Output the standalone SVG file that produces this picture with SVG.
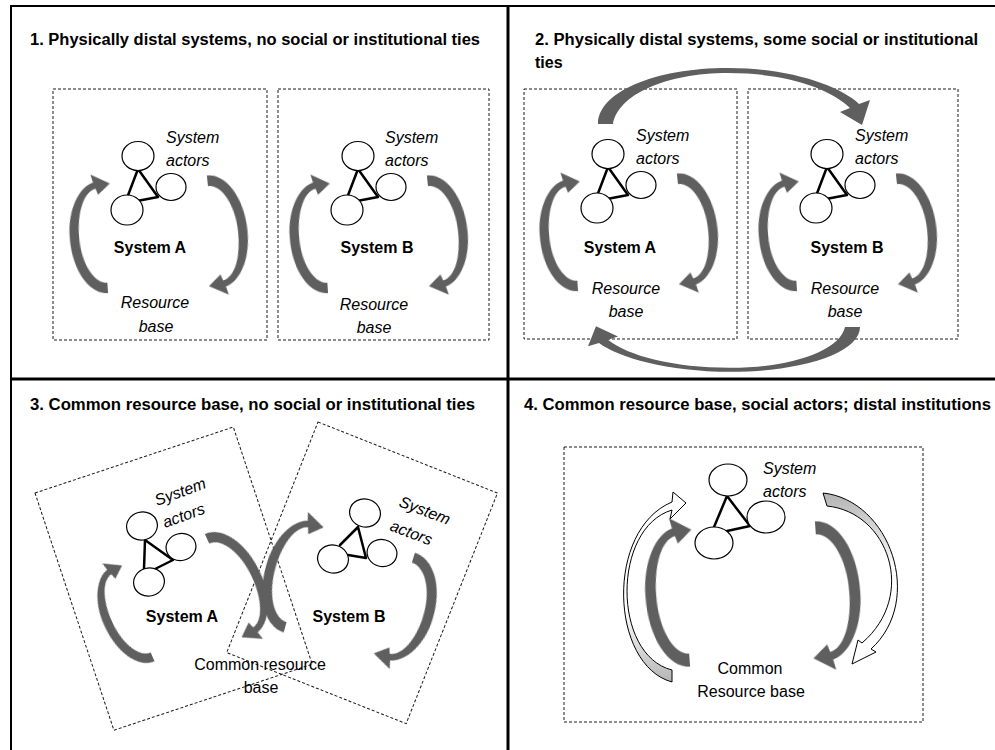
<svg xmlns="http://www.w3.org/2000/svg" xmlns:xlink="http://www.w3.org/1999/xlink" width="995" height="750" viewBox="0 0 995 750">
<style>
.frame{stroke:#000;fill:none}
.box{fill:none;stroke:#1a1a1a;stroke-width:1;stroke-dasharray:3 2}
.ell{fill:#fff;stroke:#000;stroke-width:1.2}
.tri{fill:none;stroke:#000;stroke-width:2.5;stroke-linejoin:round;stroke-linecap:round}
text{font-family:"Liberation Sans",Arial,sans-serif;fill:#000;font-size:16px}
.title{font-weight:bold}
.it{font-style:italic}
.bold{font-weight:bold}
.mid{text-anchor:middle}
.arr{fill:#5e5e5e;filter:url(#soft)}
.warr{stroke:#000;stroke-width:1;stroke-linejoin:round}
</style>
<defs>
<filter id="soft" x="-20%" y="-20%" width="140%" height="140%"><feGaussianBlur stdDeviation="0.6"/></filter>
<path id="carc" d="M 0,56 C -18,56 -33,32 -33,0 C -33,-28 -20,-48 -7,-51 L -9,-59 L 9,-49 L -3,-39 L -5,-45 C -16,-43 -24,-25 -24,0 C -24,25 -13,46 0,46 Z"/>
<path id="bigarc" d="M 598,124 C 598,92 655,68 728,68 C 790,68 840,86 859,104 L 870,100 L 862,125 L 840,112 L 850,108 C 830,88 785,73 728,73 C 665,73 618,95 613,124 Z"/>
<linearGradient id="gL" gradientUnits="userSpaceOnUse" x1="0" y1="682" x2="0" y2="610"><stop offset="0" stop-color="#b5b5b5"/><stop offset="1" stop-color="#fff"/></linearGradient>
<linearGradient id="gR" gradientUnits="userSpaceOnUse" x1="0" y1="495" x2="0" y2="570"><stop offset="0" stop-color="#b5b5b5"/><stop offset="1" stop-color="#fff"/></linearGradient>
</defs>

<g id="frame" class="frame">
<line x1="11" y1="6" x2="995" y2="6" stroke-width="2"/>
<line x1="11" y1="5" x2="11" y2="750" stroke-width="2"/>
<line x1="508" y1="5" x2="508" y2="750" stroke-width="3"/>
<line x1="10" y1="379" x2="995" y2="379" stroke-width="3"/>
</g>

<g id="titles">
<text class="title" x="30" y="45" textLength="450" lengthAdjust="spacingAndGlyphs">1. Physically distal systems, no social or institutional ties</text>
<text class="title" x="535" y="45" textLength="443" lengthAdjust="spacingAndGlyphs">2. Physically distal systems, some social or institutional</text>
<text class="title" x="535" y="68">ties</text>
<text class="title" x="30" y="410" textLength="445" lengthAdjust="spacingAndGlyphs">3. Common resource base, no social or institutional ties</text>
<text class="title" x="524" y="410" textLength="467" lengthAdjust="spacingAndGlyphs">4. Common resource base, social actors; distal institutions</text>
</g>

<!-- Panel 1 -->
<g id="p1-systemA">
<rect class="box" x="53" y="89" width="214" height="251"/>
<polyline class="tri" points="127,198 138,169 158,197 137,201"/>
<ellipse class="ell" cx="138" cy="156" rx="16" ry="14.5"/>
<ellipse class="ell" cx="171" cy="187" rx="15" ry="13.5"/>
<ellipse class="ell" cx="127" cy="210" rx="16" ry="15"/>
<text class="it" x="166" y="143">System</text>
<text class="it" x="166" y="166">actors</text>
<text class="bold mid" x="150" y="253">System A</text>
<text class="it mid" x="155" y="308">Resource</text>
<text class="it mid" x="156" y="332">base</text>
</g>
<g id="p1-systemB">
<rect class="box" x="278" y="89" width="211" height="251"/>
<polyline class="tri" points="347,198 358,169 378,197 357,201"/>
<ellipse class="ell" cx="358" cy="156" rx="16" ry="14.5"/>
<ellipse class="ell" cx="391" cy="187" rx="15" ry="13.5"/>
<ellipse class="ell" cx="347" cy="210" rx="16" ry="15"/>
<text class="it" x="385" y="143">System</text>
<text class="it" x="385" y="166">actors</text>
<text class="bold mid" x="377" y="253">System B</text>
<text class="it mid" x="374" y="310">Resource</text>
<text class="it mid" x="374" y="333">base</text>
</g>

<!-- Panel 2 -->
<g id="p2-systemA">
<rect class="box" x="524" y="89" width="213" height="250"/>
<polyline class="tri" points="597,196 608,167 628,195 607,199"/>
<ellipse class="ell" cx="608" cy="154" rx="16" ry="14.5"/>
<ellipse class="ell" cx="641" cy="185" rx="15" ry="13.5"/>
<ellipse class="ell" cx="597" cy="208" rx="16" ry="15"/>
<text class="it" x="636" y="141">System</text>
<text class="it" x="636" y="164">actors</text>
<text class="bold mid" x="620" y="253">System A</text>
<text class="it mid" x="626" y="294">Resource</text>
<text class="it mid" x="626" y="317">base</text>
</g>
<g id="p2-systemB">
<rect class="box" x="748" y="89" width="210" height="250"/>
<polyline class="tri" points="816,196 827,167 847,195 826,199"/>
<ellipse class="ell" cx="827" cy="154" rx="16" ry="14.5"/>
<ellipse class="ell" cx="860" cy="185" rx="15" ry="13.5"/>
<ellipse class="ell" cx="816" cy="208" rx="16" ry="15"/>
<text class="it" x="855" y="141">System</text>
<text class="it" x="855" y="164">actors</text>
<text class="bold mid" x="847" y="253">System B</text>
<text class="it mid" x="845" y="294">Resource</text>
<text class="it mid" x="845" y="317">base</text>
</g>

<!-- Panel 3 -->
<g id="p3-systemA">
<rect class="box" x="0" y="0" width="209" height="250" transform="translate(35,493) rotate(-18.4)"/>
<polyline class="tri" points="145,540 173,560 155,569"/>
<line class="tri" x1="145" y1="540" x2="144" y2="569"/>
<ellipse class="ell" cx="142" cy="526" rx="15.5" ry="14" transform="rotate(-15 142 526)"/>
<ellipse class="ell" cx="181" cy="547" rx="15" ry="13.5" transform="rotate(-15 181 547)"/>
<ellipse class="ell" cx="149" cy="582" rx="15.5" ry="14" transform="rotate(-15 149 582)"/>
<text class="it" transform="translate(157,506) rotate(-20)">System</text>
<text class="it" transform="translate(165,528) rotate(-20)">actors</text>
<text class="bold mid" x="182" y="622">System A</text>
</g>
<g id="p3-systemB">
<rect class="box" x="0" y="0" width="193" height="248" transform="translate(318,422) rotate(21.6)"/>
<polyline class="tri" points="340,545 358,527 366,558 348,555"/>
<ellipse class="ell" cx="365" cy="513" rx="15.5" ry="14" transform="rotate(15 365 513)"/>
<ellipse class="ell" cx="382" cy="553" rx="15" ry="13.5" transform="rotate(15 382 553)"/>
<ellipse class="ell" cx="333" cy="559" rx="15.5" ry="14" transform="rotate(15 333 559)"/>
<text class="it" transform="translate(398,506) rotate(21)">System</text>
<text class="it" transform="translate(389,530) rotate(21)">actors</text>
<text class="bold mid" x="349" y="622">System B</text>
</g>
<g id="p3-resource">
<text class="mid" x="260" y="670">Common resource</text>
<text class="mid" x="261" y="693">base</text>
</g>

<!-- Panel 4 -->
<g id="p4-system">
<rect class="box" x="564" y="447" width="359" height="275"/>
<polyline class="tri" points="714,527 727,496 750,526 727,531"/>
<ellipse class="ell" cx="728" cy="480" rx="19" ry="16"/>
<ellipse class="ell" cx="766" cy="517" rx="19" ry="16"/>
<ellipse class="ell" cx="714" cy="543" rx="19" ry="16"/>
<text class="it" x="763" y="474">System</text>
<text class="it" x="763" y="497">actors</text>
<text class="mid" x="750" y="674">Common</text>
<text class="mid" x="751" y="697">Resource base</text>
</g>

<g id="connectors">
<!-- panel 1 loops -->
<use xlink:href="#carc" class="arr" transform="translate(104,235) rotate(-4) scale(1.04)"/>
<use xlink:href="#carc" class="arr" transform="translate(213,234) rotate(174) scale(1.05)"/>
<use xlink:href="#carc" class="arr" transform="translate(324,235) rotate(-4) scale(1.04)"/>
<use xlink:href="#carc" class="arr" transform="translate(433,234) rotate(174) scale(1.05)"/>
<!-- panel 2 loops -->
<use xlink:href="#carc" class="arr" transform="translate(574,233) rotate(-4) scale(1.04)"/>
<use xlink:href="#carc" class="arr" transform="translate(683,232) rotate(174) scale(1.05)"/>
<use xlink:href="#carc" class="arr" transform="translate(793,233) rotate(-4) scale(1.04)"/>
<use xlink:href="#carc" class="arr" transform="translate(902,232) rotate(174) scale(1.05)"/>
<!-- panel 2 ties -->
<use xlink:href="#bigarc" class="arr"/>
<use xlink:href="#bigarc" class="arr" transform="translate(729,327) rotate(180) scale(1,0.8) translate(-729,-124)"/>
<!-- panel 3 loops -->
<use xlink:href="#carc" class="arr" transform="translate(133,612) rotate(-23.6) scale(0.96)"/>
<use xlink:href="#carc" class="arr" transform="translate(229,587) rotate(155.5) scale(1.04)"/>
<use xlink:href="#carc" class="arr" transform="translate(300,575) rotate(15.9) scale(1.065)"/>
<use xlink:href="#carc" class="arr" transform="translate(398,608) rotate(197) scale(1.1,1.03)"/>
<!-- panel 4 -->
<path class="warr" fill="url(#gL)" d="M 672,682 C 610,665 605,530 672,502 L 673,492 L 686,503 L 670,519 L 672,510 C 612,528 612,655 672,670 Z"/>
<path class="warr" fill="url(#gR)" d="M 823,493 C 890,500 925,600 871,649 L 876,652 L 852,664 L 858,640 L 862,643 C 918,595 888,512 827,506 Z"/>
<use xlink:href="#carc" class="arr" transform="translate(685,594) rotate(-4) scale(1.2,1.3)"/>
<use xlink:href="#carc" class="arr" transform="translate(820,594) rotate(176) scale(1.22,1.3)"/>
</g>
</svg>
